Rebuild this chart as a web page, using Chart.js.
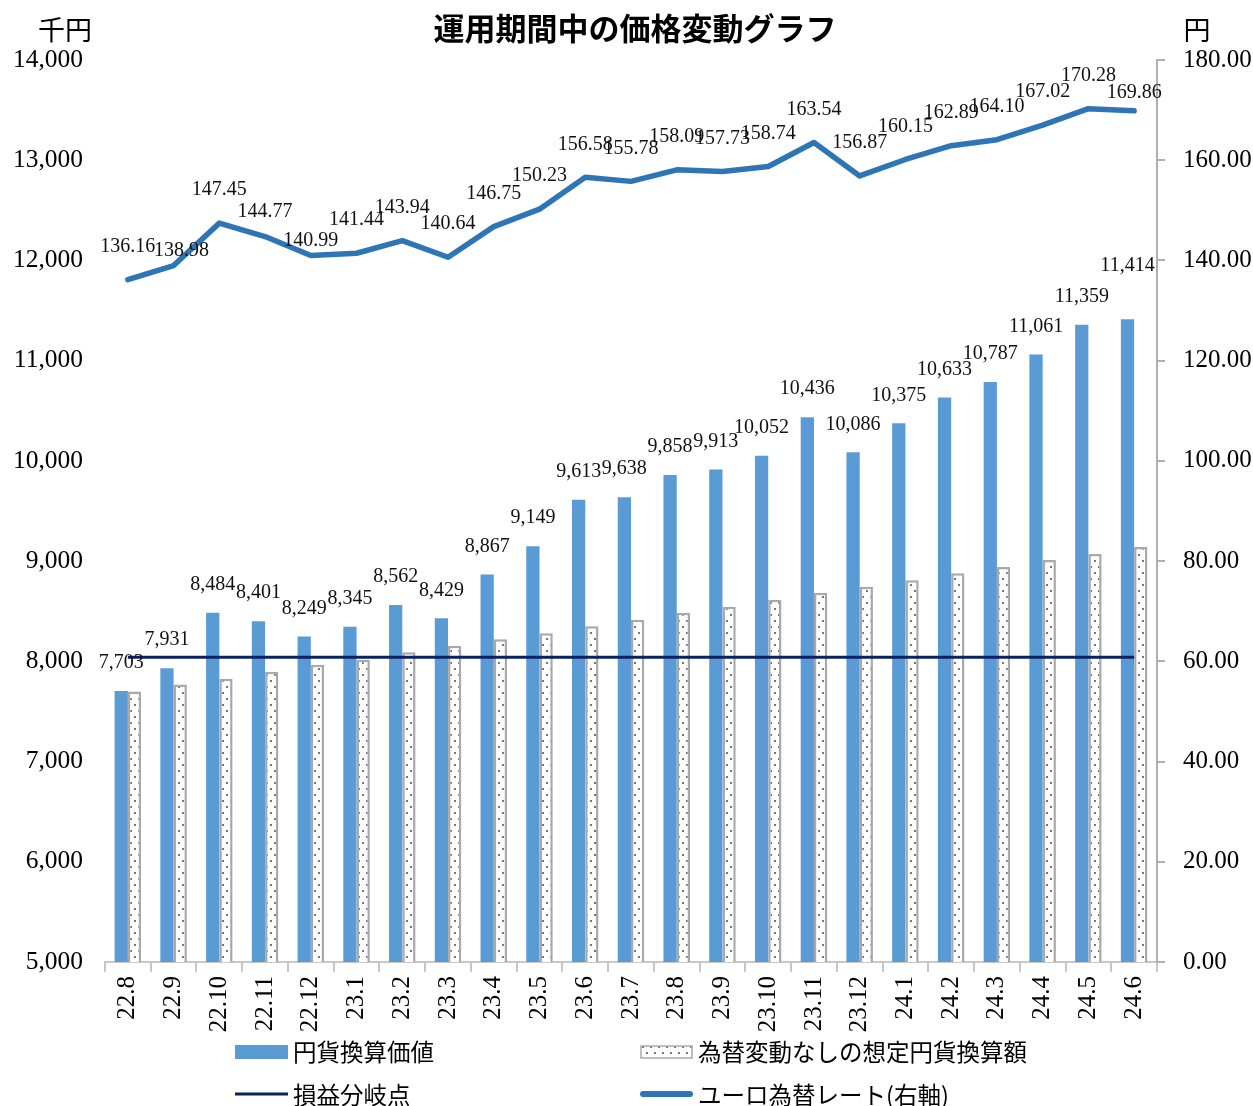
<!DOCTYPE html>
<html lang="ja">
<head>
<meta charset="utf-8">
<title>運用期間中の価格変動グラフ</title>
<script src="https://cdn.jsdelivr.net/npm/chart.js@4/dist/chart.umd.min.js"></script>
<style>
  html, body { margin: 0; padding: 0; background: #fff; }
  #chart { display: block; }
</style>
</head>
<body>
<canvas id="chart" width="1253" height="1106"></canvas>
<script>
"use strict";

// data
const months = ["22.8", "22.9", "22.10", "22.11", "22.12", "23.1", "23.2", "23.3", "23.4", "23.5", "23.6", "23.7",
  "23.8", "23.9", "23.10", "23.11", "23.12", "24.1", "24.2", "24.3", "24.4", "24.5", "24.6"];
// 円貨換算価値 (千円)
const yenValue = [7703, 7931, 8484, 8401, 8249, 8345, 8562, 8429, 8867, 9149, 9613, 9638,
  9858, 9913, 10052, 10436, 10086, 10375, 10633, 10787, 11061, 11359, 11414];
// 為替変動なしの想定円貨換算額 (千円)
const flatValue = [7700, 7770, 7825, 7895, 7965, 8015, 8090, 8155, 8220, 8280, 8350, 8415,
  8485, 8545, 8615, 8685, 8745, 8810, 8880, 8940, 9010, 9070, 9140];
// 損益分岐点 (千円)
const breakEven = [8040, 8040, 8040, 8040, 8040, 8040, 8040, 8040, 8040, 8040, 8040, 8040,
  8040, 8040, 8040, 8040, 8040, 8040, 8040, 8040, 8040, 8040, 8040];
// ユーロ為替レート (円, 右軸)
const euroRate = [136.16, 138.98, 147.45, 144.77, 140.99, 141.44, 143.94, 140.64, 146.75, 150.23, 156.58, 155.78,
  158.09, 157.73, 158.74, 163.54, 156.87, 160.15, 162.89, 164.10, 167.02, 170.28, 169.86];

const SERIF = '"Liberation Serif", "Noto Sans CJK JP", serif';
const JP = '"Noto Sans CJK JP", "Liberation Serif", sans-serif';
const BLUE = "#5B9BD5";
const LINE_BLUE = "#2E75B6";
const NAVY = "#0A2263";
const GRAY = "#A9A9A9";

// dotted fill for the "no fx change" bars
let makeDots = () => {
  let c = document.createElement("canvas");
  c.width = 8;
  c.height = 12;
  let g = c.getContext("2d");
  g.fillStyle = "#fff";
  g.fillRect(0, 0, 8, 12);
  g.fillStyle = "#777";
  g.fillRect(2, 2, 2, 2);
  g.fillRect(6, 8, 2, 2);
  return g.createPattern(c, "repeat");
};
const ctx = document.querySelector("#chart").getContext("2d");
const dots = makeDots();

// label nudges for the rate line (px, where the default "above" spot collides)
const rateNudge = { 1: [8, 18], 3: [0, 8], 4: [0, 18], 22: [0, 15] };
const barNudge = { 22: [0, -25] };

const labelPlugin = {
  id: "labels",
  afterDatasetsDraw(chart) {
    let g = chart.ctx;
    g.save();
    g.fillStyle = "#111";
    g.font = "20px " + SERIF;
    g.textAlign = "center";
    g.textBaseline = "middle";
    chart.getDatasetMeta(0).data.forEach((el, i) => {
      let n = barNudge[i] || [0, 0];
      g.fillText(yenValue[i].toLocaleString("en-US"), el.x + n[0], el.y - 28 + n[1]);
    });
    chart.getDatasetMeta(3).data.forEach((el, i) => {
      let n = rateNudge[i] || [0, 0];
      g.fillText(euroRate[i].toFixed(2), el.x + n[0], el.y - 33 + n[1]);
    });
    g.restore();
  },
  afterDraw(chart) {
    let g = chart.ctx;
    g.save();
    // titles
    g.fillStyle = "#000";
    g.textBaseline = "middle";
    g.textAlign = "center";
    g.font = "bold 31px " + JP;
    g.fillText("運用期間中の価格変動グラフ", 635, 28);
    g.font = "27px " + JP;
    g.fillText("千円", 65, 30);
    g.fillText("円", 1197, 30);

    // legend
    g.textAlign = "left";
    g.font = "23.5px " + JP;
    g.fillStyle = BLUE;
    g.fillRect(235, 1045, 53, 14);
    g.fillStyle = "#000";
    g.fillText("円貨換算価値", 293, 1052);

    g.fillStyle = dots;
    g.fillRect(641, 1046, 51, 12);
    g.strokeStyle = GRAY;
    g.lineWidth = 1.5;
    g.strokeRect(641, 1046, 51, 12);
    g.fillStyle = "#000";
    g.fillText("為替変動なしの想定円貨換算額", 698, 1052);

    g.strokeStyle = NAVY;
    g.lineWidth = 3;
    g.beginPath();
    g.moveTo(235, 1094);
    g.lineTo(288, 1094);
    g.stroke();
    g.fillText("損益分岐点", 293, 1095);

    g.strokeStyle = LINE_BLUE;
    g.lineWidth = 6;
    g.lineCap = "round";
    g.beginPath();
    g.moveTo(643, 1094);
    g.lineTo(690, 1094);
    g.stroke();
    g.fillText("ユーロ為替レート(右軸)", 698, 1095);
    g.restore();
  }
};

new Chart(ctx, {
  type: "bar",
  data: {
    labels: months,
    datasets: [{
      label: "円貨換算価値",
      data: yenValue,
      yAxisID: "y",
      backgroundColor: BLUE,
      borderWidth: 0,
      order: 3
    }, {
      label: "為替変動なしの想定円貨換算額",
      data: flatValue,
      yAxisID: "y",
      backgroundColor: dots,
      borderColor: GRAY,
      borderWidth: 2.5,
      borderSkipped: false,
      order: 3
    }, {
      type: "line",
      label: "損益分岐点",
      data: breakEven,
      yAxisID: "y",
      borderColor: NAVY,
      borderWidth: 3,
      pointRadius: 0,
      fill: false,
      order: 1
    }, {
      type: "line",
      label: "ユーロ為替レート(右軸)",
      data: euroRate,
      yAxisID: "y2",
      borderColor: LINE_BLUE,
      borderWidth: 5.5,
      borderCapStyle: "round",
      borderJoinStyle: "round",
      pointRadius: 0,
      tension: 0,
      fill: false,
      order: 0
    }]
  },
  options: {
    responsive: false,
    animation: false,
    devicePixelRatio: 1,
    layout: { padding: { top: 60, left: 0, right: 0, bottom: 0 } },
    datasets: {
      bar: { categoryPercentage: 0.58, barPercentage: 1 }
    },
    plugins: {
      legend: { display: false },
      title: { display: false },
      tooltip: { enabled: false }
    },
    scales: {
      x: {
        offset: true,
        grid: { display: true, drawOnChartArea: false, offset: true, tickLength: 10, color: "#C8C8C8", lineWidth: 2 },
        border: { display: true, color: "#C8C8C8", width: 2 },
        ticks: { minRotation: 90, maxRotation: 90, padding: 4, color: "#000", font: { family: SERIF, size: 25 } },
        afterFit: s => { s.height = 144; }
      },
      y: {
        position: "left",
        min: 5000,
        max: 14000,
        grid: { display: false, drawTicks: false, tickLength: 0 },
        border: { display: false },
        ticks: {
          stepSize: 1000,
          padding: 22,
          color: "#000",
          font: { family: SERIF, size: 25.5 },
          callback: v => v.toLocaleString("en-US")
        },
        afterFit: s => { s.width = 105; }
      },
      y2: {
        position: "right",
        min: 0,
        max: 180,
        grid: { display: true, drawOnChartArea: false, tickLength: 8, color: "#B0B0B0", lineWidth: 2 },
        border: { display: true, color: "#B0B0B0", width: 2 },
        ticks: {
          stepSize: 20,
          padding: 18,
          color: "#000",
          font: { family: SERIF, size: 25 },
          callback: v => v.toFixed(2)
        },
        afterFit: s => { s.width = 96; }
      }
    }
  },
  plugins: [labelPlugin]
});
</script>
</body>
</html>
